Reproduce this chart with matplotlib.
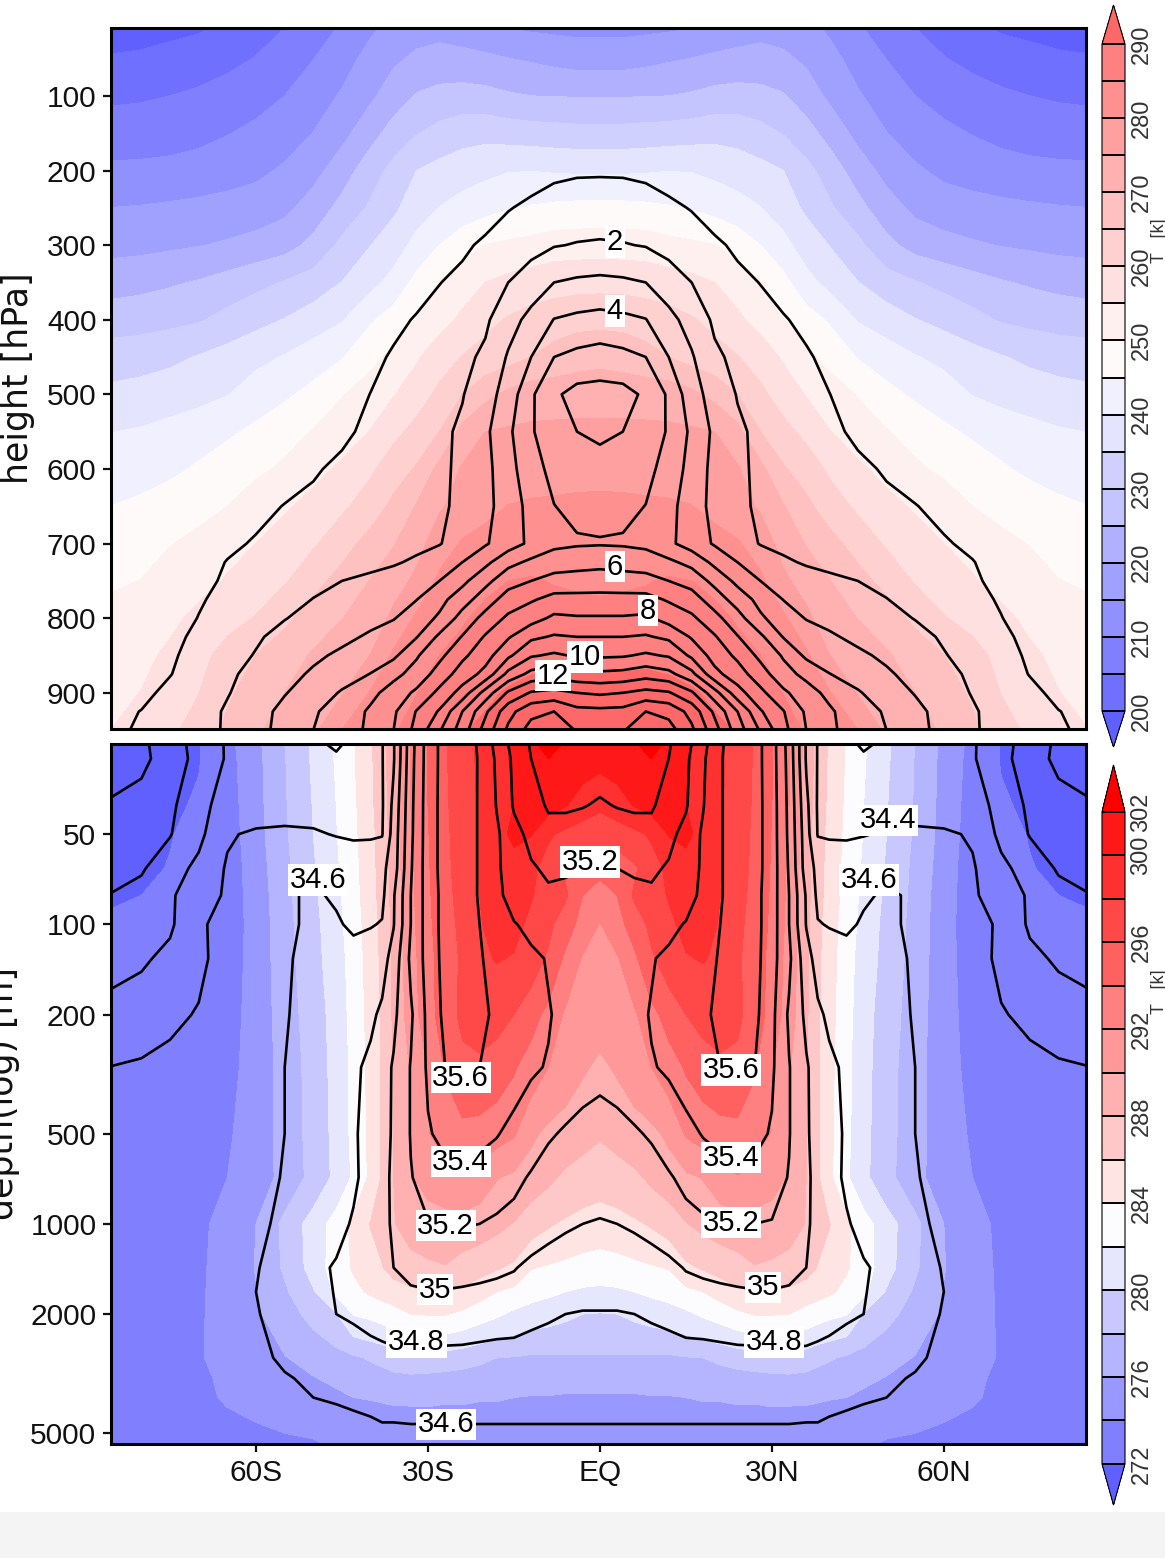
#!/usr/bin/env python3
"""Zonal mean cross section: atmosphere on top, ocean below."""
import matplotlib
matplotlib.use('Agg')
import matplotlib.pyplot as plt
from matplotlib.patches import Rectangle
import numpy as np

plt.rcParams['font.family'] = ['Liberation Sans', 'DejaVu Sans']

W, H = 1165, 1558

# columns run from the equator to the pole, the field is close to symmetric
lat_up = [0, 4, 8, 12, 16, 20, 24, 28, 32, 36, 40, 45, 50, 55, 60, 65, 70, 75, 80, 86]
lat_lo = [0, 3, 6, 9, 12, 15, 18, 21, 24, 27, 30, 33, 36, 38, 40, 43, 46, 50, 55, 60, 65, 70, 75, 80, 86]

p_t = [9, 50, 100, 150, 200, 250, 300, 350, 400, 450, 500, 550, 600, 650, 700, 750, 800, 850, 900, 950]
T_up = [
    [213.7, 213.7, 214.0, 214.3, 214.9, 216.0, 217.6, 218.6, 218.0, 216.5, 214.2, 210.6, 207.5, 205.0, 203.1, 201.0, 199.4, 198.8, 198.0, 197.5],
    [217.7, 217.8, 218.5, 219.4, 220.1, 221.0, 221.4, 221.5, 220.9, 219.1, 216.6, 213.1, 209.9, 207.6, 205.2, 203.7, 202.5, 201.5, 200.8, 200.4],
    [224.7, 224.7, 224.9, 225.0, 225.6, 226.5, 227.0, 226.6, 225.4, 222.6, 219.1, 215.5, 212.8, 210.0, 208.2, 206.9, 205.8, 205.0, 204.5, 204.2],
    [231.7, 231.7, 232.0, 232.3, 232.8, 233.4, 233.0, 231.6, 229.7, 226.9, 223.3, 218.5, 215.1, 212.7, 211.1, 209.8, 208.6, 207.7, 207.2, 207.0],
    [239.3, 239.3, 239.5, 239.9, 239.7, 238.7, 237.7, 236.5, 235.0, 231.5, 227.7, 222.7, 218.3, 215.7, 213.9, 212.9, 212.0, 211.5, 211.2, 211.0],
    [246.4, 246.3, 246.0, 245.4, 244.6, 243.3, 241.8, 240.1, 237.5, 234.1, 230.8, 226.5, 222.2, 218.8, 217.3, 216.7, 216.2, 215.7, 215.3, 215.0],
    [252.8, 252.8, 252.6, 251.5, 250.9, 250.1, 248.0, 245.0, 241.5, 237.6, 234.9, 231.2, 226.3, 223.1, 221.7, 220.6, 219.8, 219.2, 218.6, 218.2],
    [258.4, 258.3, 258.0, 257.3, 256.3, 255.0, 252.8, 250.2, 246.5, 241.6, 238.4, 235.1, 232.2, 230.3, 228.6, 226.9, 225.4, 224.4, 223.6, 223.0],
    [263.6, 263.4, 262.6, 261.7, 260.4, 258.8, 255.9, 253.2, 250.2, 247.2, 244.4, 239.6, 237.4, 235.2, 233.4, 231.5, 229.5, 228.6, 227.8, 227.2],
    [268.6, 268.0, 266.7, 265.0, 262.9, 261.5, 260.2, 257.7, 254.4, 251.3, 248.5, 244.7, 242.5, 240.3, 238.7, 236.9, 235.3, 234.0, 233.2, 232.6],
    [272.9, 272.8, 272.8, 272.8, 271.2, 268.5, 265.0, 261.1, 257.7, 254.7, 252.4, 249.7, 246.4, 244.2, 242.3, 239.8, 238.4, 237.4, 236.6, 236.0],
    [276.2, 276.2, 276.0, 275.8, 275.6, 275.0, 271.5, 265.0, 261.5, 258.7, 255.2, 252.4, 250.3, 247.9, 246.0, 244.2, 242.8, 241.6, 240.5, 239.8],
    [278.7, 278.6, 278.5, 278.2, 277.8, 277.0, 275.5, 271.4, 265.5, 262.6, 259.2, 255.9, 253.4, 250.9, 248.9, 247.4, 245.6, 244.0, 242.9, 242.3],
    [280.9, 280.8, 280.6, 280.5, 280.1, 278.7, 276.7, 274.4, 270.3, 266.2, 262.4, 259.1, 256.5, 254.4, 252.8, 250.0, 248.6, 247.3, 246.0, 244.9],
    [283.3, 283.2, 283.0, 282.8, 282.3, 281.5, 280.5, 277.5, 273.3, 269.7, 266.9, 262.9, 259.4, 257.0, 255.0, 253.5, 251.1, 249.8, 248.3, 247.5],
    [284.5, 284.6, 284.8, 285.3, 285.0, 284.0, 282.0, 281.0, 276.0, 273.0, 270.2, 266.8, 263.4, 259.5, 257.5, 255.4, 253.4, 252.2, 250.1, 249.2],
    [285.7, 285.9, 286.3, 287.0, 287.0, 286.0, 284.6, 282.3, 280.8, 276.1, 272.3, 269.9, 267.2, 264.0, 260.3, 258.2, 256.1, 254.0, 252.8, 251.4],
    [288.9, 289.0, 289.3, 289.0, 288.5, 287.8, 286.2, 285.0, 282.9, 280.8, 275.1, 272.5, 270.6, 267.4, 265.1, 261.9, 258.4, 255.8, 254.0, 252.9],
    [291.2, 291.2, 291.2, 290.9, 290.3, 289.4, 288.2, 286.6, 284.9, 283.2, 280.4, 274.6, 272.9, 270.0, 267.1, 264.3, 259.9, 257.6, 255.1, 253.6],
    [293.5, 293.4, 293.1, 292.5, 291.8, 290.6, 289.8, 288.3, 286.3, 284.7, 282.5, 280.0, 274.0, 272.0, 269.3, 266.0, 261.8, 259.1, 256.6, 254.8],
]

p_q = [9, 100, 200, 250, 300, 350, 400, 450, 500, 550, 600, 650, 700, 725, 750, 775, 800, 825, 850, 875, 900, 925, 950]
q_up = [
    [0.01, 0.01, 0.01, 0.01, 0.01, 0.01, 0.01, 0.01, 0.01, 0.01, 0.01, 0.01, 0.01, 0.01, 0.01, 0.01, 0.01, 0.01, 0.01, 0.01],
    [0.20, 0.19, 0.17, 0.12, 0.08, 0.05, 0.03, 0.02, 0.01, 0.01, 0.01, 0.01, 0.01, 0.01, 0.01, 0.01, 0.01, 0.01, 0.01, 0.01],
    [0.90, 0.89, 0.82, 0.60, 0.40, 0.25, 0.14, 0.08, 0.05, 0.03, 0.02, 0.01, 0.01, 0.01, 0.01, 0.01, 0.01, 0.01, 0.01, 0.01],
    [1.47, 1.45, 1.35, 1.18, 0.95, 0.60, 0.40, 0.25, 0.14, 0.08, 0.05, 0.03, 0.02, 0.01, 0.01, 0.01, 0.01, 0.01, 0.01, 0.01],
    [2.10, 2.05, 1.95, 1.70, 1.45, 1.15, 0.85, 0.60, 0.40, 0.25, 0.15, 0.09, 0.05, 0.03, 0.02, 0.02, 0.01, 0.01, 0.01, 0.01],
    [3.22, 3.15, 3.00, 2.45, 2.00, 1.55, 1.20, 0.98, 0.75, 0.55, 0.38, 0.24, 0.15, 0.10, 0.07, 0.05, 0.04, 0.03, 0.02, 0.02],
    [4.30, 4.20, 4.03, 3.30, 2.60, 1.85, 1.60, 1.27, 1.05, 0.85, 0.62, 0.42, 0.27, 0.18, 0.13, 0.10, 0.07, 0.05, 0.04, 0.03],
    [5.40, 5.25, 5.00, 4.00, 3.10, 2.15, 1.80, 1.55, 1.30, 1.07, 0.85, 0.60, 0.40, 0.28, 0.20, 0.15, 0.11, 0.08, 0.06, 0.04],
    [6.35, 6.30, 5.85, 4.85, 3.40, 2.60, 1.95, 1.65, 1.40, 1.20, 1.01, 0.75, 0.55, 0.40, 0.30, 0.23, 0.17, 0.13, 0.09, 0.06],
    [6.15, 6.00, 5.60, 4.90, 3.80, 2.80, 2.15, 1.80, 1.55, 1.30, 1.12, 0.90, 0.70, 0.55, 0.43, 0.35, 0.27, 0.20, 0.14, 0.09],
    [5.72, 5.65, 5.30, 4.60, 3.65, 2.70, 2.20, 1.80, 1.55, 1.35, 1.22, 1.10, 0.95, 0.75, 0.60, 0.48, 0.38, 0.28, 0.20, 0.13],
    [5.33, 5.25, 4.98, 4.30, 3.50, 2.70, 2.20, 1.85, 1.60, 1.45, 1.35, 1.22, 1.10, 1.02, 0.85, 0.70, 0.55, 0.40, 0.27, 0.18],
    [4.93, 4.90, 4.80, 4.20, 3.55, 2.90, 2.45, 1.95, 1.75, 1.55, 1.40, 1.30, 1.20, 1.12, 1.05, 0.90, 0.70, 0.50, 0.33, 0.22],
    [5.70, 5.60, 5.45, 5.20, 4.70, 3.75, 3.00, 2.55, 2.15, 1.90, 1.75, 1.60, 1.45, 1.30, 1.15, 1.02, 0.80, 0.55, 0.35, 0.25],
    [6.50, 6.45, 6.40, 6.00, 5.65, 4.70, 3.75, 3.00, 2.70, 2.40, 2.20, 2.00, 1.80, 1.55, 1.30, 1.08, 0.85, 0.60, 0.40, 0.28],
    [7.30, 7.30, 7.30, 6.90, 6.40, 5.55, 4.55, 3.70, 2.98, 2.70, 2.45, 2.25, 2.02, 1.75, 1.45, 1.20, 0.93, 0.65, 0.45, 0.30],
    [8.10, 8.10, 8.20, 7.60, 7.20, 6.30, 5.40, 4.15, 3.50, 2.95, 2.70, 2.50, 2.25, 1.97, 1.65, 1.35, 1.02, 0.70, 0.50, 0.35],
    [9.00, 9.00, 9.10, 8.80, 7.90, 7.10, 6.05, 5.20, 3.95, 3.50, 3.15, 2.75, 2.50, 2.25, 1.90, 1.50, 1.20, 0.75, 0.55, 0.40],
    [9.85, 9.90, 10.15, 9.90, 8.80, 7.60, 6.80, 5.75, 4.90, 3.80, 3.50, 3.20, 2.80, 2.40, 2.05, 1.70, 1.25, 0.90, 0.65, 0.45],
    [11.20, 11.30, 11.60, 11.30, 10.30, 8.30, 7.45, 6.45, 5.35, 4.75, 4.03, 3.55, 3.15, 2.65, 2.25, 1.85, 1.40, 0.97, 0.70, 0.50],
    [12.85, 13.00, 13.30, 13.10, 12.15, 10.40, 8.40, 7.25, 6.20, 5.40, 4.75, 4.10, 3.45, 2.95, 2.40, 1.95, 1.55, 1.20, 0.80, 0.60],
    [14.25, 14.30, 15.00, 14.70, 13.65, 11.80, 10.00, 8.10, 7.05, 5.85, 5.15, 4.40, 3.90, 3.25, 2.65, 2.10, 1.65, 1.35, 1.02, 0.75],
    [14.60, 14.90, 15.80, 15.40, 14.20, 12.40, 10.50, 8.90, 7.30, 6.00, 5.20, 4.50, 4.00, 3.30, 2.70, 2.10, 1.70, 1.40, 1.10, 0.80],
]

depth = [25, 28, 40, 50, 65, 80, 100, 130, 200, 300, 500, 700, 1000, 1400, 1685, 2000, 2800, 3280, 3800, 5000, 5450]
T_lo = [
    [301.2, 301.4, 301.9, 302.5, 301.7, 300.4, 299.3, 298.3, 297.2, 295.8, 294.1, 292.1, 289.4, 287.3, 285.8, 283.8, 282.2, 280.3, 278.0, 275.5, 273.4, 271.9, 271.4, 271.2, 271.0],
    [300.6, 300.8, 301.2, 302.0, 301.5, 300.3, 299.3, 298.3, 297.2, 295.8, 294.1, 292.1, 289.3, 287.2, 285.7, 283.8, 282.2, 280.3, 277.9, 275.4, 273.3, 271.9, 271.4, 271.2, 271.0],
    [298.4, 299.2, 300.1, 300.8, 300.7, 300.0, 299.1, 298.2, 297.1, 295.7, 294.0, 292.0, 289.1, 287.0, 285.6, 283.6, 282.0, 280.1, 277.8, 275.3, 273.1, 272.2, 271.7, 271.3, 270.9],
    [296.6, 296.9, 297.5, 298.3, 300.1, 300.4, 299.4, 298.2, 297.0, 295.6, 293.9, 291.8, 288.9, 286.9, 285.4, 283.5, 281.9, 280.0, 277.7, 275.2, 273.0, 272.6, 271.9, 271.5, 271.1],
    [294.5, 294.8, 295.7, 297.1, 298.5, 299.3, 299.2, 298.1, 296.9, 295.5, 293.8, 291.6, 288.8, 286.8, 285.3, 283.3, 281.7, 279.8, 277.5, 275.0, 272.9, 272.3, 272.1, 271.6, 271.1],
    [293.2, 294.0, 296.3, 297.4, 298.1, 298.8, 298.9, 298.0, 296.7, 295.4, 293.7, 291.5, 288.7, 286.7, 285.2, 283.2, 281.5, 279.6, 277.4, 274.8, 273.0, 272.6, 272.3, 272.0, 271.8],
    [291.9, 293.3, 294.9, 296.5, 297.7, 298.4, 298.5, 297.9, 296.5, 295.2, 293.6, 291.4, 288.5, 286.5, 285.0, 283.0, 281.3, 279.4, 277.3, 274.7, 273.0, 272.7, 272.4, 272.3, 272.2],
    [291.5, 291.8, 293.6, 295.7, 297.0, 297.9, 298.1, 297.7, 296.3, 295.0, 293.4, 291.2, 288.4, 286.4, 284.9, 282.8, 281.1, 279.3, 277.2, 274.7, 273.1, 272.9, 272.7, 272.5, 272.4],
    [290.6, 291.0, 291.7, 293.4, 294.8, 296.0, 296.7, 296.9, 296.4, 295.1, 293.2, 291.0, 288.3, 286.3, 284.7, 282.7, 280.8, 279.0, 277.0, 274.7, 273.3, 273.1, 272.9, 272.8, 272.7],
    [289.7, 290.2, 290.9, 292.0, 293.0, 294.2, 295.0, 295.6, 295.5, 294.2, 292.1, 290.2, 288.1, 286.2, 284.6, 282.5, 280.7, 278.8, 276.8, 274.7, 273.5, 273.3, 273.1, 273.0, 272.9],
    [288.2, 288.7, 289.2, 289.5, 290.4, 292.2, 292.8, 293.2, 293.4, 292.8, 291.9, 290.0, 288.0, 286.2, 284.5, 282.5, 280.6, 278.7, 276.8, 274.8, 273.8, 273.5, 273.4, 273.3, 273.2],
    [286.8, 287.1, 287.6, 288.4, 289.0, 289.6, 290.1, 291.2, 291.9, 291.3, 290.8, 289.8, 288.0, 286.2, 284.4, 282.3, 280.5, 278.6, 276.7, 274.8, 274.0, 273.6, 273.4, 273.4, 273.3],
    [285.1, 285.3, 285.7, 286.2, 286.9, 287.9, 288.5, 288.9, 289.2, 289.2, 289.0, 288.8, 287.9, 286.7, 286.1, 284.5, 282.8, 280.9, 278.5, 276.0, 274.5, 273.7, 273.5, 273.4, 273.4],
    [283.0, 283.2, 283.5, 283.8, 284.1, 285.6, 286.2, 286.8, 287.2, 287.9, 287.7, 287.3, 286.8, 285.9, 285.1, 284.2, 283.0, 280.8, 278.3, 276.1, 274.5, 273.8, 273.6, 273.5, 273.4],
    [281.6, 281.7, 282.0, 282.4, 282.8, 283.5, 284.0, 284.8, 285.7, 286.0, 286.0, 285.6, 285.0, 284.7, 284.3, 283.5, 282.5, 279.8, 277.7, 275.9, 274.6, 273.8, 273.6, 273.5, 273.4],
    [279.9, 280.0, 280.4, 280.8, 281.1, 281.6, 282.3, 282.9, 283.6, 284.1, 284.1, 284.0, 283.3, 282.9, 282.5, 282.1, 279.9, 278.6, 277.2, 275.7, 274.7, 273.8, 273.6, 273.5, 273.4],
    [277.8, 277.8, 277.8, 277.7, 277.7, 277.9, 278.0, 278.4, 278.8, 279.1, 279.4, 279.4, 279.0, 278.5, 278.2, 277.7, 277.3, 276.7, 275.9, 275.0, 274.4, 273.9, 273.6, 273.5, 273.4],
    [276.7, 276.7, 276.7, 276.8, 276.8, 276.9, 277.0, 277.2, 277.3, 277.4, 277.5, 277.6, 277.5, 277.3, 277.1, 276.8, 276.4, 275.9, 275.2, 274.6, 274.2, 273.8, 273.6, 273.5, 273.4],
    [275.8, 275.8, 275.8, 275.9, 275.9, 276.0, 276.1, 276.1, 276.2, 276.2, 276.3, 276.3, 276.3, 276.2, 276.1, 276.0, 275.6, 275.2, 274.7, 274.4, 274.1, 273.8, 273.6, 273.5, 273.4],
    [275.2, 275.2, 275.2, 275.2, 275.2, 275.2, 275.1, 275.1, 275.1, 275.0, 275.0, 274.9, 274.8, 274.7, 274.6, 274.4, 274.3, 274.1, 274.0, 273.8, 273.7, 273.6, 273.5, 273.4, 273.4],
    [275.0, 275.0, 275.0, 275.0, 275.0, 275.0, 274.9, 274.9, 274.9, 274.8, 274.8, 274.7, 274.6, 274.5, 274.4, 274.2, 274.1, 273.9, 273.8, 273.6, 273.5, 273.4, 273.3, 273.2, 273.2],
]
S_lo = [
    [34.90, 34.90, 34.92, 34.95, 34.98, 35.13, 35.34, 35.57, 35.72, 35.68, 35.49, 35.12, 34.58, 34.39, 34.38, 34.36, 34.10, 34.33, 34.30, 34.27, 34.22, 34.07, 33.91, 33.76, 33.61],
    [34.92, 34.92, 34.93, 34.96, 35.00, 35.16, 35.37, 35.58, 35.73, 35.68, 35.49, 35.13, 34.58, 34.39, 34.38, 34.37, 34.30, 34.33, 34.30, 34.26, 34.22, 34.06, 33.90, 33.75, 33.60],
    [35.02, 34.99, 34.98, 34.98, 35.07, 35.18, 35.39, 35.58, 35.72, 35.68, 35.50, 35.15, 34.65, 34.38, 34.37, 34.36, 34.34, 34.33, 34.31, 34.29, 34.28, 34.14, 33.96, 33.88, 33.83],
    [35.11, 35.10, 35.06, 35.06, 35.15, 35.26, 35.43, 35.58, 35.72, 35.68, 35.50, 35.16, 34.68, 34.39, 34.38, 34.38, 34.39, 34.42, 34.44, 34.43, 34.38, 34.15, 33.99, 33.94, 33.90],
    [35.21, 35.20, 35.18, 35.17, 35.22, 35.30, 35.43, 35.58, 35.72, 35.68, 35.50, 35.18, 34.70, 34.55, 34.52, 34.50, 34.55, 34.56, 34.52, 34.47, 34.42, 34.25, 34.11, 33.98, 33.95],
    [35.26, 35.26, 35.24, 35.23, 35.27, 35.33, 35.44, 35.58, 35.72, 35.67, 35.49, 35.20, 34.78, 34.56, 34.55, 34.55, 34.58, 34.62, 34.58, 34.50, 34.42, 34.33, 34.17, 34.06, 34.00],
    [35.28, 35.28, 35.28, 35.30, 35.36, 35.41, 35.48, 35.60, 35.72, 35.67, 35.49, 35.20, 34.79, 34.61, 34.59, 34.57, 34.62, 34.63, 34.57, 34.52, 34.47, 34.37, 34.17, 34.08, 34.03],
    [35.29, 35.30, 35.33, 35.39, 35.43, 35.47, 35.52, 35.62, 35.72, 35.67, 35.47, 35.24, 34.88, 34.72, 34.69, 34.67, 34.66, 34.65, 34.58, 34.52, 34.46, 34.37, 34.25, 34.17, 34.12],
    [35.30, 35.32, 35.36, 35.41, 35.46, 35.50, 35.56, 35.65, 35.72, 35.65, 35.45, 35.17, 34.96, 34.84, 34.76, 34.72, 34.69, 34.65, 34.59, 34.53, 34.47, 34.41, 34.37, 34.32, 34.27],
    [35.24, 35.26, 35.30, 35.39, 35.42, 35.47, 35.53, 35.60, 35.62, 35.60, 35.43, 35.21, 35.02, 34.92, 34.85, 34.76, 34.71, 34.66, 34.60, 34.54, 34.49, 34.46, 34.44, 34.42, 34.40],
    [35.13, 35.15, 35.18, 35.22, 35.29, 35.35, 35.41, 35.45, 35.48, 35.46, 35.38, 35.21, 35.02, 34.94, 34.86, 34.78, 34.71, 34.66, 34.60, 34.55, 34.51, 34.49, 34.48, 34.47, 34.46],
    [35.06, 35.07, 35.09, 35.12, 35.18, 35.25, 35.29, 35.32, 35.34, 35.33, 35.28, 35.19, 35.03, 34.95, 34.87, 34.77, 34.70, 34.65, 34.61, 34.55, 34.52, 34.51, 34.50, 34.49, 34.49],
    [34.99, 35.00, 35.02, 35.05, 35.09, 35.13, 35.17, 35.20, 35.21, 35.20, 35.19, 35.13, 35.02, 34.96, 34.90, 34.82, 34.74, 34.68, 34.63, 34.57, 34.53, 34.51, 34.50, 34.49, 34.49],
    [34.90, 34.90, 34.91, 34.93, 34.96, 35.01, 35.03, 35.05, 35.07, 35.08, 35.08, 35.05, 35.00, 34.97, 34.94, 34.88, 34.82, 34.75, 34.67, 34.59, 34.54, 34.51, 34.50, 34.49, 34.49],
    [34.85, 34.85, 34.86, 34.88, 34.91, 34.94, 34.96, 34.97, 34.98, 34.99, 34.99, 34.98, 34.95, 34.93, 34.90, 34.85, 34.81, 34.74, 34.67, 34.60, 34.54, 34.51, 34.50, 34.49, 34.49],
    [34.79, 34.79, 34.80, 34.82, 34.84, 34.87, 34.88, 34.89, 34.90, 34.91, 34.91, 34.90, 34.89, 34.87, 34.85, 34.82, 34.80, 34.73, 34.66, 34.59, 34.55, 34.52, 34.50, 34.49, 34.49],
    [34.71, 34.71, 34.71, 34.71, 34.72, 34.73, 34.73, 34.74, 34.75, 34.75, 34.76, 34.76, 34.76, 34.75, 34.74, 34.72, 34.70, 34.66, 34.62, 34.57, 34.54, 34.52, 34.50, 34.49, 34.48],
    [34.68, 34.68, 34.68, 34.68, 34.68, 34.69, 34.69, 34.69, 34.70, 34.70, 34.70, 34.70, 34.70, 34.69, 34.68, 34.67, 34.65, 34.62, 34.59, 34.56, 34.53, 34.51, 34.50, 34.49, 34.48],
    [34.65, 34.65, 34.65, 34.65, 34.65, 34.65, 34.65, 34.65, 34.65, 34.65, 34.65, 34.65, 34.64, 34.64, 34.63, 34.62, 34.61, 34.60, 34.58, 34.55, 34.53, 34.51, 34.50, 34.49, 34.48],
    [34.58, 34.58, 34.58, 34.58, 34.58, 34.58, 34.58, 34.58, 34.58, 34.58, 34.58, 34.58, 34.58, 34.58, 34.57, 34.56, 34.55, 34.54, 34.53, 34.52, 34.51, 34.50, 34.49, 34.48, 34.48],
    [34.57, 34.57, 34.57, 34.57, 34.57, 34.57, 34.57, 34.57, 34.57, 34.57, 34.57, 34.57, 34.57, 34.57, 34.56, 34.55, 34.54, 34.53, 34.52, 34.51, 34.50, 34.49, 34.48, 34.47, 34.47],
]

t_levels_up = [200, 205, 210, 215, 220, 225, 230, 235, 240, 245, 250, 255, 260, 265, 270, 275, 280, 285, 290]
t_colors_up = ['#6060ff', '#7070ff', '#8080ff', '#9090ff', '#a0a0ff', '#b0b0ff', '#c4c4ff', '#d0d0ff',
               '#e4e4ff', '#f0f0ff', '#fffafa', '#fff0f0', '#ffe0e0', '#ffd0d0', '#ffc0c0', '#ffb0b0',
               '#ffa0a0', '#ff9090', '#ff8080', '#ff6868']
q_levels = [1, 2, 3, 4, 5, 6, 7, 8, 9, 10, 11, 12, 13, 14, 15]

t_levels_lo = [272, 274, 276, 278, 280, 282, 284, 286, 288, 290, 292, 294, 296, 298, 300, 302]
t_colors_lo = ['#6060ff', '#8080ff', '#9898ff', '#b4b4ff', '#c8c8ff', '#e6e6ff', '#fcfcff', '#ffe4e4',
               '#ffc8c8', '#ffb0b0', '#ff9898', '#ff8080', '#ff6060', '#ff4848', '#ff3030', '#ff1818', '#ff0000']
s_levels = [33.8, 34.0, 34.2, 34.4, 34.6, 34.8, 35.0, 35.2, 35.4, 35.6]

# label text, latitude, level
labels_up = [('2', 2.6, 296), ('4', 2.6, 388), ('6', 2.6, 731), ('8', 8.4, 790),
             ('10', -2.6, 852), ('12', -8.2, 877)]
labels_lo = [('34.4', 50.3, 45), ('34.6', -49.2, 71), ('34.6', 47, 71), ('35.2', -1.7, 62),
             ('35.6', -24.3, 325), ('35.6', 22.9, 306), ('35.4', -24.3, 620), ('35.4', 22.9, 601),
             ('35.2', -26.9, 1013), ('35.2', 22.9, 990), ('35', -28.8, 1656), ('35', 28.4, 1630),
             ('34.8', -32, 2487), ('34.8', 30.4, 2487), ('34.6', -26.9, 4666)]

p_ticks = [100, 200, 300, 400, 500, 600, 700, 800, 900]
d_ticks = [50, 100, 200, 500, 1000, 2000, 5000]
lat_ticks = [-60, -30, 0, 30, 60]
lat_names = ['60S', '30S', 'EQ', '30N', '60N']
cbar_up_ticks = [200, 210, 220, 230, 240, 250, 260, 270, 280, 290]
cbar_lo_ticks = [272, 276, 280, 284, 288, 292, 296, 300, 302]


def mirror(half):
    """Spread equator-to-pole rows over both hemispheres."""
    half = np.array(half, dtype=float)
    return np.hstack([half[:, :0:-1], half])


def mirror_lat(half):
    half = np.array(half, dtype=float)
    return np.hstack([-half[:0:-1], half])


def box(x0, y0, x1, y1):
    """Pixel box (y downwards) to figure fractions."""
    return [x0 / W, 1 - y1 / H, (x1 - x0) / W, (y1 - y0) / H]


def style_axes(ax):
    for spine in ax.spines.values():
        spine.set_linewidth(2.2)
    ax.tick_params(axis='both', length=6, width=1.6, labelsize=21.5, pad=4.5, colors='#111111')


def put_labels(ax, labels):
    for text, lat, level in labels:
        ax.text(lat, level, text, fontsize=21, ha='center', va='center', color='black', zorder=5,
                bbox=dict(facecolor='white', edgecolor='none', pad=1.2))


def add_cbar(fig, cf, rect, ext, ticks, title_y):
    cax = fig.add_axes(rect)
    cb = fig.colorbar(cf, cax=cax, extend='both', extendfrac=ext, drawedges=True, ticks=ticks)
    cb.dividers.set_color('black')
    cb.dividers.set_linewidth(1.4)
    cb.outline.set_edgecolor('black')
    cb.outline.set_linewidth(0.8)
    cax.tick_params(length=0, pad=4)
    cax.set_yticks(ticks)
    cax.set_yticklabels([str(t) for t in ticks], rotation=90, va='center', fontsize=17, color='#333333')
    fig.text(1159.5 / W, 1 - title_y / H, 'T   [k]', rotation=90, fontsize=13, ha='center', va='center', color='#333333')
    return cb


fig = plt.figure(figsize=(W / 100, H / 100), dpi=100, facecolor='white')
fig.add_artist(Rectangle((0, 0), 1, 46 / H, transform=fig.transFigure, facecolor='#f4f4f4', edgecolor='none'))

# atmosphere
ax1 = fig.add_axes(box(111, 28, 1086, 729))
x_up = mirror_lat(lat_up)
cf1 = ax1.contourf(x_up, p_t, mirror(T_up), levels=t_levels_up, colors=t_colors_up, extend='both')
ax1.contour(x_up, p_q, mirror(q_up), levels=q_levels, colors='black', linewidths=1.9, linestyles='solid')
put_labels(ax1, labels_up)
ax1.set_xlim(-85.3, 84.8)
ax1.set_ylim(948.5, 9)
ax1.set_yticks(p_ticks)
ax1.set_xticks([])
style_axes(ax1)

# ocean
ax2 = fig.add_axes(box(111, 744, 1086, 1444))
x_lo = mirror_lat(lat_lo)
cf2 = ax2.contourf(x_lo, depth, mirror(T_lo), levels=t_levels_lo, colors=t_colors_lo, extend='both')
ax2.contour(x_lo, depth, mirror(S_lo), levels=s_levels, colors='black', linewidths=1.9, linestyles='solid')
put_labels(ax2, labels_lo)
ax2.set_yscale('log')
ax2.set_xlim(-85.3, 84.8)
ax2.set_ylim(5430, 25)
ax2.set_yticks(d_ticks)
ax2.set_yticklabels([str(d) for d in d_ticks])
ax2.minorticks_off()
ax2.set_xticks(lat_ticks)
ax2.set_xticklabels(lat_names)
style_axes(ax2)

add_cbar(fig, cf1, box(1102, 5, 1125, 747), [0.054, 0.0585], cbar_up_ticks, 241)
add_cbar(fig, cf2, box(1102, 765, 1125, 1505), [0.063, 0.072], cbar_lo_ticks, 992)

fig.text(18 / W, 1 - 378 / H, 'height [hPa]', rotation=90, fontsize=25, family='DejaVu Sans', ha='center', va='center', color='#111111')
fig.text(3 / W, 1 - 1093 / H, 'depth(log) [m]', rotation=90, fontsize=25, family='DejaVu Sans', ha='center', va='center', color='#111111')

fig.savefig('out.png', dpi=100)
